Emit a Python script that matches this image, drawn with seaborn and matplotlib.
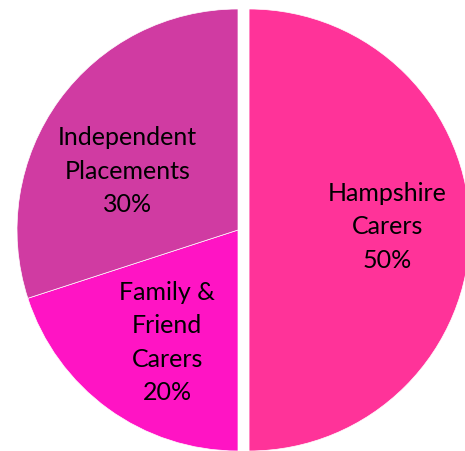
import matplotlib
matplotlib.use("Agg")
import matplotlib.pyplot as plt
import seaborn as sns

# placement types and share of children (%)
categories = ["Hampshire\nCarers", "Family &\nFriend\nCarers", "Independent\nPlacements"]
shares = [50, 20, 30]
colors = ["#FF3399", "#FF14C4", "#D03BA2"]
explode = [0.05, 0, 0]

# label centres in axes data units (pie radius = 1)
label_pos = [(0.675, 0.02), (-0.32, -0.505), (-0.50, 0.27)]

sns.set_theme(style="white")
plt.rcParams["font.family"] = ["Lato", "DejaVu Sans"]

fig = plt.figure(figsize=(4.65, 4.52), dpi=100)
ax = fig.add_axes([0, 0, 1, 1])

labels = [f"{c}\n{s}%" for c, s in zip(categories, shares)]
wedges, texts = ax.pie(
    shares,
    labels=labels,
    colors=colors,
    explode=explode,
    startangle=90,
    counterclock=False,
    labeldistance=0.58,
    wedgeprops={"linewidth": 0.5, "edgecolor": "white"},
    textprops={"ha": "center", "va": "center", "fontsize": 18,
               "linespacing": 1.55, "color": "black"},
)
for t, p in zip(texts, label_pos):
    t.set_position(p)

ax.set_aspect("equal")
ax.set_xlim(-238 / 221, 227 / 221)
ax.set_ylim(-221 / 221, 231 / 221)
ax.axis("off")

fig.savefig("out.png", dpi=100)
plt.close(fig)
